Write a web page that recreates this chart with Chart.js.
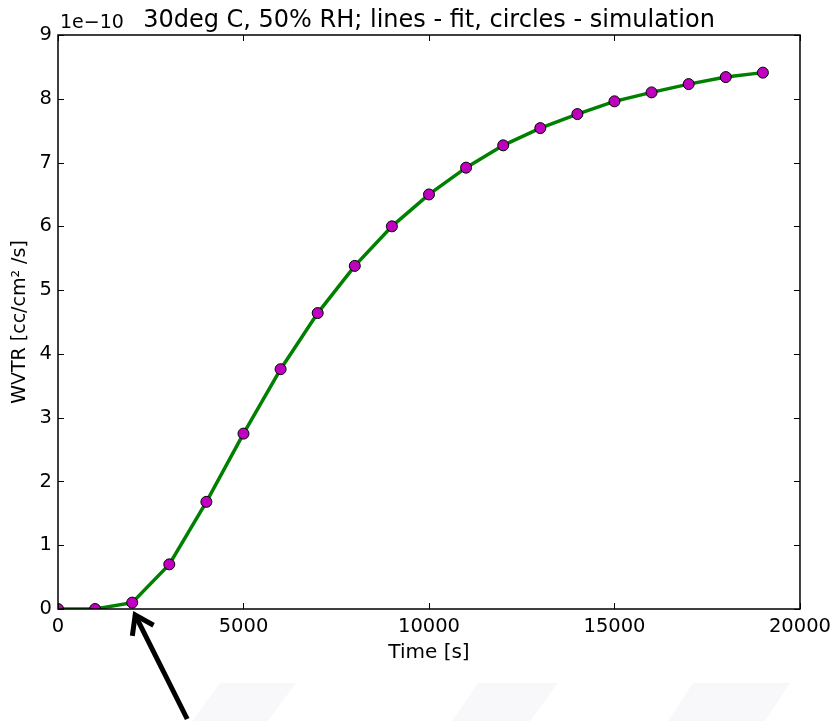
<!DOCTYPE html>
<html><head><meta charset="utf-8">
<script src="https://cdn.jsdelivr.net/npm/chart.js"></script>
<style>html,body{margin:0;padding:0;background:#fff;overflow:hidden}</style>
</head><body>
<canvas id="c" width="837" height="721"></canvas>
<script>
const timeSeconds = [0,1000,2000,3000,4000,5000,6000,7000,8000,9000,10000,11000,12000,13000,14000,15000,16000,17000,18000,19000];
const simulationWVTR = [0,0,0.10,0.70,1.68,2.75,3.76,4.64,5.38,6.00,6.50,6.92,7.27,7.54,7.76,7.96,8.10,8.23,8.34,8.41];
const fitWVTR = [0,0,0.10,0.70,1.68,2.75,3.76,4.64,5.38,6.00,6.50,6.92,7.27,7.54,7.76,7.96,8.10,8.23,8.34,8.41];
const xTicks = [0,5000,10000,15000,20000];
const yTicks = [0,1,2,3,4,5,6,7,8,9];
const titleText = '30deg C, 50% RH; lines - fit, circles - simulation';
const offsetText = '1e\u221210';
const xLabel = 'Time [s]';
const yLabel = 'WVTR [cc/cm\u00b2 /s]';
const arrowTarget = {x: 2000, y: 0};

const FONT = "'DejaVu Sans', sans-serif";

const decor = {
  id: 'decor',
  beforeDraw(chart) {
    const ctx = chart.ctx;
    ctx.save();
    ctx.fillStyle = '#f8f8fa';
    const shapes = [[220,296,192,268],[478,558,452,530],[693,790,668,765]];
    shapes.forEach(s => {
      ctx.beginPath();
      ctx.moveTo(s[0],683); ctx.lineTo(s[1],683); ctx.lineTo(s[3],721); ctx.lineTo(s[2],721);
      ctx.closePath(); ctx.fill();
    });
    ctx.restore();
  },
  afterDraw(chart) {
    const ctx = chart.ctx;
    const a = chart.chartArea;
    const xs = chart.scales.x, ys = chart.scales.y;
    ctx.save();
    ctx.strokeStyle = '#000';
    ctx.lineWidth = 1;
    const tl = 6;
    xTicks.forEach(v => {
      const px = Math.round(xs.getPixelForValue(v)) + 0.5;
      ctx.beginPath();
      ctx.moveTo(px, a.bottom); ctx.lineTo(px, a.bottom - tl);
      ctx.moveTo(px, a.top); ctx.lineTo(px, a.top + tl);
      ctx.stroke();
    });
    yTicks.forEach(v => {
      const py = Math.round(ys.getPixelForValue(v)) + 0.5;
      ctx.beginPath();
      ctx.moveTo(a.left, py); ctx.lineTo(a.left + tl, py);
      ctx.moveTo(a.right, py); ctx.lineTo(a.right - tl, py);
      ctx.stroke();
    });
    ctx.lineWidth = 1.5;
    ctx.strokeRect(a.left, a.top, a.right - a.left, a.bottom - a.top);
    ctx.fillStyle = '#000';
    ctx.font = '24px ' + FONT;
    ctx.textAlign = 'center';
    ctx.textBaseline = 'alphabetic';
    ctx.fillText(titleText, (a.left + a.right) / 2, 27);
    ctx.font = '19px ' + FONT;
    ctx.textAlign = 'left';
    ctx.fillText(offsetText, a.left + 2, 28);
    // arrow
    const tx = xs.getPixelForValue(arrowTarget.x) + 3;
    const ty = ys.getPixelForValue(arrowTarget.y) + 6;
    const ex = tx + 52, ey = ty + 104;
    const ang = Math.atan2(ey - ty, ex - tx);
    ctx.strokeStyle = '#000';
    ctx.lineWidth = 5;
    ctx.lineCap = 'butt';
    ctx.lineJoin = 'miter';
    ctx.beginPath();
    ctx.moveTo(tx + 2*Math.cos(ang), ty + 2*Math.sin(ang));
    ctx.lineTo(ex, ey);
    ctx.stroke();
    const hl = 21, spread = 0.6;
    ctx.beginPath();
    ctx.moveTo(tx + hl*Math.cos(ang - spread), ty + hl*Math.sin(ang - spread));
    ctx.lineTo(tx, ty);
    ctx.lineTo(tx + hl*Math.cos(ang + spread), ty + hl*Math.sin(ang + spread));
    ctx.stroke();
    ctx.restore();
  }
};

new Chart(document.getElementById('c'), {
  type: 'scatter',
  data: {
    datasets: [
      {
        label: 'simulation',
        data: timeSeconds.map((t, i) => ({x: t, y: simulationWVTR[i]})),
        showLine: false,
        pointRadius: 5.5,
        pointBackgroundColor: '#bf00bf',
        pointBorderColor: '#000',
        pointBorderWidth: 1,
        clip: 0,
        order: 0
      },
      {
        label: 'fit',
        data: timeSeconds.map((t, i) => ({x: t, y: fitWVTR[i]})),
        showLine: true,
        borderColor: '#008000',
        borderWidth: 3.5,
        pointRadius: 0,
        tension: 0,
        clip: 0,
        order: 1
      }
    ]
  },
  options: {
    responsive: false,
    animation: false,
    devicePixelRatio: 1,
    layout: {padding: {left: 0, right: 36, top: 35, bottom: 0}},
    plugins: {legend: {display: false}, tooltip: {enabled: false}, title: {display: false}},
    scales: {
      x: {
        type: 'linear', min: 0, max: 20000,
        afterFit(s) { s.height = 112; },
        afterBuildTicks(s) { s.ticks = xTicks.map(v => ({value: v})); },
        ticks: {color: '#000', font: {family: FONT, size: 19.5}, padding: 6, maxRotation: 0, callback: v => String(v)},
        grid: {display: false, drawTicks: false},
        border: {display: false},
        title: {display: true, text: xLabel, color: '#000', font: {family: FONT, size: 20}, padding: {top: 0, bottom: 56}}
      },
      y: {
        type: 'linear', min: 0, max: 9,
        afterFit(s) { s.width = 58; },
        afterBuildTicks(s) { s.ticks = yTicks.map(v => ({value: v})); },
        ticks: {color: '#000', font: {family: FONT, size: 19.5}, padding: 6, callback: v => String(v)},
        grid: {display: false, drawTicks: false},
        border: {display: false},
        title: {display: true, text: yLabel, color: '#000', font: {family: FONT, size: 19}, padding: {top: 9, bottom: 0}}
      }
    }
  },
  plugins: [decor]
});
</script>
</body></html>
